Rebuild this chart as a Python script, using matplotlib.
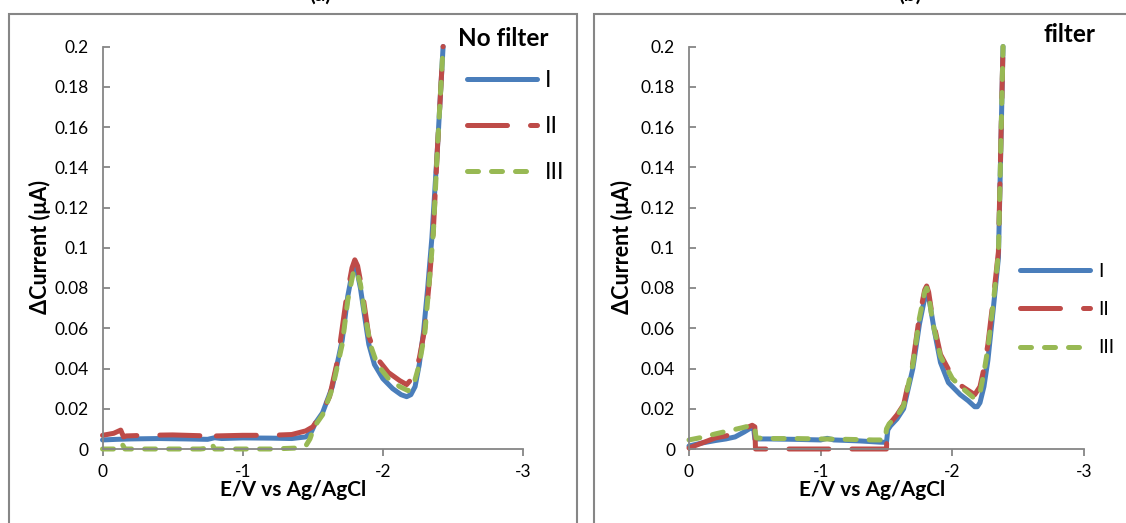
import matplotlib
matplotlib.use("Agg")
import matplotlib.pyplot as plt
from matplotlib.patches import Rectangle

plt.rcParams["font.family"] = ["Lato", "DejaVu Sans"]

# ---- data (E in V vs Ag/AgCl, current in uA) ----
# panel (a): no filter
a_I_E = [0, -0.1, -0.2, -0.4, -0.6, -0.75, -0.8, -0.85, -1.0, -1.2, -1.35, -1.45,
         -1.49, -1.52, -1.57, -1.64, -1.71, -1.75, -1.78, -1.80, -1.82, -1.84, -1.87,
         -1.90, -1.94, -2.00, -2.07, -2.13, -2.17, -2.20, -2.23, -2.26, -2.29, -2.32,
         -2.35, -2.39, -2.43]
a_I_i = [0.0045, 0.0048, 0.0050, 0.0052, 0.0050, 0.0048, 0.0056, 0.0052, 0.0055, 0.0054,
         0.0052, 0.0060, 0.0085, 0.0130, 0.018, 0.031, 0.054, 0.076, 0.087, 0.090, 0.087,
         0.080, 0.066, 0.052, 0.042, 0.035, 0.030, 0.027, 0.026, 0.027, 0.031, 0.042,
         0.058, 0.080, 0.105, 0.150, 0.200]

a_II_E = [0, -0.08, -0.13, -0.15, -0.17, -0.3, -0.5, -0.7, -0.77, -0.79, -0.81, -1.0,
          -1.2, -1.35, -1.45, -1.5, -1.55, -1.62, -1.68, -1.74, -1.78, -1.80, -1.82,
          -1.85, -1.90, -1.96, -2.04, -2.12, -2.17, -2.22, -2.26, -2.30, -2.33, -2.36,
          -2.39, -2.43]
a_II_i = [0.0068, 0.0078, 0.0094, 0.0060, 0.0065, 0.0068, 0.0070, 0.0066, 0.0070, 0.0094,
          0.0065, 0.0068, 0.0068, 0.0072, 0.0090, 0.0110, 0.0160, 0.026, 0.045, 0.075,
          0.090, 0.094, 0.091, 0.080, 0.056, 0.045, 0.038, 0.034, 0.032, 0.036, 0.045,
          0.060, 0.082, 0.108, 0.150, 0.200]

a_III_E = [0, -0.12, -0.14, -0.16, -0.3, -0.5, -0.7, -0.76, -0.78, -0.80, -1.0, -1.2,
           -1.4, -1.45, -1.48, -1.5, -1.53, -1.57, -1.64, -1.71, -1.75, -1.79, -1.81,
           -1.84, -1.87, -1.91, -1.96, -2.04, -2.12, -2.18, -2.22, -2.26, -2.30, -2.33,
           -2.36, -2.39, -2.43]
a_III_i = [0.0, 0.0, 0.0025, 0.0, 0.0, 0.0, 0.0, 0.0005, 0.0025, 0.0, 0.0, 0.0, 0.0005,
           0.0015, 0.0050, 0.0090, 0.013, 0.017, 0.030, 0.052, 0.074, 0.088, 0.089, 0.082,
           0.068, 0.052, 0.042, 0.035, 0.031, 0.029, 0.032, 0.042, 0.058, 0.082, 0.107,
           0.150, 0.200]

# panel (b): filter
b_I_E = [0, -0.1, -0.2, -0.28, -0.35, -0.42, -0.47, -0.49, -0.50, -0.6, -0.8, -1.0,
         -1.05, -1.1, -1.3, -1.45, -1.50, -1.51, -1.53, -1.58, -1.63, -1.70, -1.75,
         -1.79, -1.81, -1.83, -1.86, -1.91, -1.97, -2.06, -2.12, -2.17, -2.19, -2.21,
         -2.24, -2.27, -2.31, -2.35, -2.385]
b_I_i = [0.0015, 0.0030, 0.0042, 0.0050, 0.0060, 0.0085, 0.0105, 0.0110, 0.0050, 0.0050,
         0.0048, 0.0045, 0.0053, 0.0045, 0.0040, 0.0034, 0.0033, 0.0095, 0.0115, 0.0150,
         0.0200, 0.040, 0.062, 0.075, 0.0775, 0.072, 0.060, 0.043, 0.033, 0.027, 0.024,
         0.021, 0.021, 0.023, 0.031, 0.044, 0.069, 0.095, 0.200]

b_II_E = [0, -0.1, -0.2, -0.28, -0.35, -0.42, -0.48, -0.50, -0.505, -0.7, -1.0, -1.3,
          -1.50, -1.505, -1.53, -1.58, -1.63, -1.70, -1.75, -1.79, -1.805, -1.82, -1.85,
          -1.91, -2.02, -2.10, -2.17, -2.21, -2.24, -2.27, -2.31, -2.35, -2.385]
b_II_i = [0.0005, 0.0030, 0.0055, 0.0065, 0.0080, 0.0100, 0.0118, 0.0110, 0.0, 0.0, 0.0,
          0.0, 0.0, 0.0115, 0.0130, 0.0170, 0.0220, 0.043, 0.066, 0.079, 0.081, 0.078,
          0.065, 0.047, 0.0335, 0.030, 0.027, 0.031, 0.040, 0.052, 0.074, 0.098, 0.200]

b_III_E = [0, -0.1, -0.2, -0.3, -0.4, -0.46, -0.48, -0.50, -0.51, -0.6, -0.8, -1.0, -1.2,
           -1.4, -1.49, -1.50, -1.52, -1.58, -1.63, -1.70, -1.75, -1.79, -1.805, -1.82,
           -1.85, -1.91, -2.00, -2.08, -2.17, -2.21, -2.24, -2.27, -2.31, -2.35, -2.385]
b_III_i = [0.0045, 0.0058, 0.0075, 0.0090, 0.0105, 0.0115, 0.0120, 0.0100, 0.0055, 0.0052,
           0.0052, 0.0050, 0.0048, 0.0045, 0.0045, 0.0100, 0.0125, 0.0165, 0.0215, 0.042,
           0.065, 0.078, 0.080, 0.077, 0.063, 0.046, 0.035, 0.030, 0.025, 0.028, 0.038,
           0.050, 0.072, 0.097, 0.200]

series_names = ["I", "II", "III"]
x_ticks = [0, -1, -2, -3]
x_ticklabels = ["0", "-1", "-2", "-3"]
y_ticks = [0, 0.02, 0.04, 0.06, 0.08, 0.1, 0.12, 0.14, 0.16, 0.18, 0.2]
y_ticklabels = ["0", "0.02", "0.04", "0.06", "0.08", "0.1", "0.12", "0.14", "0.16",
                "0.18", "0.2"]

# ---- styles ----
W, H = 1126, 523
COLORS = ["#4A7EBB", "#BE4B48", "#98B954"]
STYLES = ["-", (0, (8, 4.6)), (0, (2.2, 2.6))]
LW = 3.6
AXIS_GREY = "#868686"


def draw_panel(ax, curves, title, title_xy, ylab_x, xlab_x, leg_xy, leg_size,
               leg_len, leg_space, leg_pad):
    fig = ax.figure
    for (E, cur), name, c, ls in zip(curves, series_names, COLORS, STYLES):
        ax.plot(E, cur, color=c, linestyle=ls, lw=LW, label=name, clip_on=False,
                solid_capstyle="round", dash_capstyle="round", solid_joinstyle="round")
    ax.set_xlim(0, -3)
    ax.set_ylim(0, 0.2)
    ax.set_xticks(x_ticks, x_ticklabels)
    ax.set_yticks(y_ticks, y_ticklabels)
    for side in ("top", "right"):
        ax.spines[side].set_visible(False)
    for side in ("left", "bottom"):
        ax.spines[side].set_color(AXIS_GREY)
        ax.spines[side].set_linewidth(1.3)
    ax.tick_params(axis="x", direction="out", length=5, width=1.3, color=AXIS_GREY,
                   labelsize=12.5, pad=6)
    ax.tick_params(axis="y", direction="in", length=5, width=1.3, color=AXIS_GREY,
                   labelsize=12.5, pad=10)

    fig.text(xlab_x / W, 1 - 490 / H, "E/V vs Ag/AgCl", fontsize=15,
             fontweight="bold", ha="center", va="center")
    fig.text(ylab_x / W, 1 - 247 / H, "\u0394Current (\u03bcA)", fontsize=15.5,
             fontweight="bold", ha="center", va="center", rotation=90)
    fig.text(title_xy[0] / W, 1 - title_xy[1] / H, title, fontsize=17.5,
             fontweight="bold", ha="center", va="center")
    ax.legend(loc="upper left", bbox_to_anchor=(leg_xy[0] / W, 1 - leg_xy[1] / H),
              bbox_transform=fig.transFigure, frameon=False, fontsize=leg_size,
              handlelength=leg_len, handletextpad=leg_pad, labelspacing=leg_space,
              borderpad=0, borderaxespad=0)


fig = plt.figure(figsize=(W / 100, H / 100), dpi=100)

# chart-area borders
fig.add_artist(Rectangle((9 / W, -0.1), 568 / W, 1.1 - 14 / H, transform=fig.transFigure,
                         fill=False, edgecolor=AXIS_GREY, lw=1.5))
fig.add_artist(Rectangle((594 / W, -0.1), 600 / W, 1.1 - 14 / H, transform=fig.transFigure,
                         fill=False, edgecolor=AXIS_GREY, lw=1.5))

# panel titles, mostly cut off at the top edge as in the source figure
fig.text(320 / W, 1 - 1 / H, "(a)", fontsize=15, fontweight="bold", ha="center",
         va="baseline")
fig.text(910 / W, 1 - 1 / H, "(b)", fontsize=15, fontweight="bold", ha="center",
         va="baseline")

ax_a = fig.add_axes([102.5 / W, (H - 449) / H, 420.5 / W, 402.5 / H])
draw_panel(ax_a, [(a_I_E, a_I_i), (a_II_E, a_II_i), (a_III_E, a_III_i)],
           "No filter", (503, 38), 40, 293, (467, 70), 16.5, 3.06, 1.1, 0.35)

ax_b = fig.add_axes([689 / W, (H - 449) / H, 395 / W, 402.5 / H])
draw_panel(ax_b, [(b_I_E, b_I_i), (b_II_E, b_II_i), (b_III_E, b_III_i)],
           "filter", (1070, 35), 622, 872, (1020, 263), 14, 3.6, 1.09, 0.4)

fig.savefig("out.png", dpi=100)
